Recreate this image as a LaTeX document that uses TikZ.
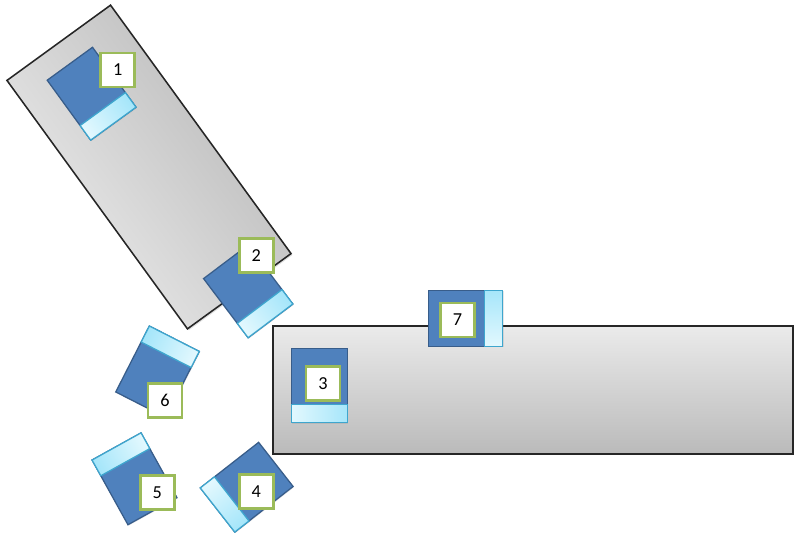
\documentclass[tikz,border=0pt]{standalone}
\usepackage{fontspec}
\setmainfont{Carlito}
\usepackage{xcolor}
\usepackage{tikz}
\usetikzlibrary{shadows}

\definecolor{seatblue}{HTML}{4F81BD}
\definecolor{seatline}{HTML}{385D8A}
\definecolor{backlight}{HTML}{E2F8FE}
\definecolor{backdark}{HTML}{A6E6FA}
\definecolor{backline}{HTML}{3EA6CE}
\definecolor{tagline}{HTML}{9BBB59}

\tikzset{
  table/.style={draw=black!85, line width=1.1pt, inner sep=0pt,
    drop shadow={shadow xshift=1pt, shadow yshift=-1pt, opacity=0.25}},
  seat/.style={draw=seatline, fill=seatblue, line width=0.9pt, inner sep=0pt,
    minimum width=1.4cm, minimum height=1.85cm, transform shape,
    drop shadow={shadow xshift=0.6pt, shadow yshift=-0.6pt, opacity=0.2}},
  back/.style={draw=backline, left color=backlight, right color=backdark,
    line width=0.9pt, inner sep=0pt, minimum width=1.4cm, minimum height=0.45cm,
    transform shape},
  tag/.style={draw=tagline, fill=white, line width=2.1pt, inner sep=0pt,
    minimum size=0.85cm, font=\fontsize{13}{15}\selectfont}
}

% one chair: name, centre, turn
\newcommand{\chair}[3]{%
  \pgfmathsetmacro{\backangle}{90+#3}
  \begin{scope}[shift={#2}, rotate=#3]
    \node[seat] (#1) at (0,0) {};
    \node[back, shading angle=\backangle] (#1back) at (0,-28) {};
  \end{scope}}

\begin{document}
\begin{tikzpicture}[x=0.025cm, y=0.025cm]
    \useasboundingbox (0,0) rectangle (800,-540);

    % Draw the two tables
    \node[table, rotate=-54, minimum width=7.675cm, minimum height=3.2cm,
      top color=black!28, bottom color=black!7, shading angle=-54] (tableA) at (149,-167) {};
    \node[table, minimum width=13cm, minimum height=3.2cm,
      top color=black!8, bottom color=black!27] (tableB) at (533,-390) {};

    % Draw the chairs
    \chair{c1}{(91.6,-93.7)}{36}
    \chair{c2}{(248.2,-291.3)}{37}
    \chair{c3}{(319.5,-385.8)}{0}
    \chair{c4}{(246.7,-487.2)}{-52}
    \chair{c5}{(134.5,-478.8)}{-151}
    \chair{c6}{(157.5,-371.7)}{153}
    \chair{c7}{(465.7,-318.2)}{90}

    % Add the numbers
    \node[tag] (n1) at (117.7,-70) {1};
    \node[tag] (n2) at (256.2,-255.3) {2};
    \node[tag] (n3) at (323,-383.7) {3};
    \node[tag] (n4) at (256.3,-491.3) {4};
    \node[tag] (n5) at (157.2,-492.8) {5};
    \node[tag] (n6) at (165,-400.7) {6};
    \node[tag] (n7) at (457.5,-320) {7};
\end{tikzpicture}
\end{document}
